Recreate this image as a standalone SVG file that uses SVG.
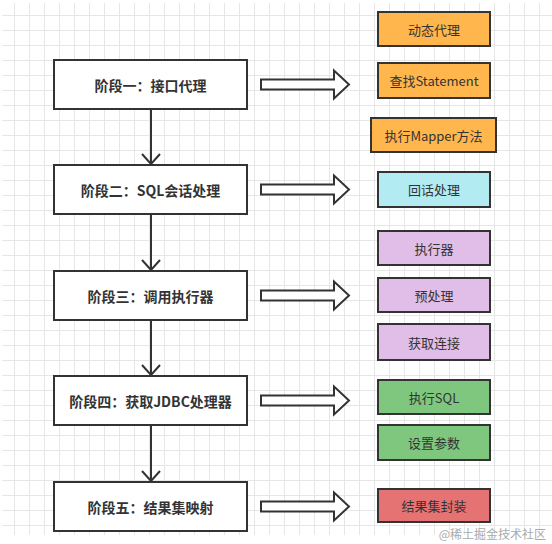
<svg xmlns="http://www.w3.org/2000/svg" width="552" height="544" viewBox="0 0 552 544">
<style>
.stage rect{fill:#fff;stroke:#333;stroke-width:2}
.stage text{font-family:"Noto Sans CJK SC","Microsoft YaHei",sans-serif;font-size:14px;font-weight:bold;fill:#333;text-anchor:middle;dominant-baseline:central}
.item rect{stroke:#333;stroke-width:2}
.item text{font-family:"Noto Sans CJK SC","Microsoft YaHei",sans-serif;font-size:13px;fill:#333;text-anchor:middle;dominant-baseline:central}
.o{fill:#FFB74D}.c{fill:#B2EBF2}.p{fill:#E1BEE7}.g{fill:#7FC77F}.r{fill:#E57373}
.flow{stroke:#333;stroke-width:2;fill:none}
.big{fill:#fff;stroke:#333;stroke-width:2;stroke-linejoin:miter}
</style>
<defs>
<pattern id="grid" x="14" y="0" width="15" height="15" patternUnits="userSpaceOnUse">
<path d="M0.5 0V15M0 0.5H15" stroke="#e6e6e6" stroke-width="1" fill="none"/>
</pattern>
<marker id="open" viewBox="0 0 12 20" refX="11" refY="10" markerWidth="12" markerHeight="20" markerUnits="userSpaceOnUse" orient="auto">
<path d="M1 1L11 10L1 19" fill="none" stroke="#333" stroke-width="2"/>
</marker>
<path id="blk" d="M0 -5H73V-14L88 0L73 14V5H0Z"/>
</defs>
<rect width="552" height="544" fill="#fff"/>
<rect x="2" y="3" width="550" height="532" fill="url(#grid)"/>
<g id="connectors">
<path class="flow" d="M151 109V164" marker-end="url(#open)"/>
<path class="flow" d="M151 214V270" marker-end="url(#open)"/>
<path class="flow" d="M151 320V375" marker-end="url(#open)"/>
<path class="flow" d="M151 425V481" marker-end="url(#open)"/>
<use href="#blk" class="big" x="261" y="84.5"/>
<use href="#blk" class="big" x="261" y="189.5"/>
<use href="#blk" class="big" x="261" y="295.5"/>
<use href="#blk" class="big" x="261" y="400.5"/>
<use href="#blk" class="big" x="261" y="506.5"/>
</g>
<g id="stage1" class="stage"><rect x="54" y="60" width="193" height="49"/><text x="150.5" y="84.5">阶段一：接口代理</text></g>
<g id="stage2" class="stage"><rect x="54" y="165" width="193" height="49"/><text x="150.5" y="189.5">阶段二：SQL会话处理</text></g>
<g id="stage3" class="stage"><rect x="54" y="271" width="193" height="49"/><text x="150.5" y="295.5">阶段三：调用执行器</text></g>
<g id="stage4" class="stage"><rect x="54" y="376" width="193" height="49"/><text x="150.5" y="400.5">阶段四：获取JDBC处理器</text></g>
<g id="stage5" class="stage"><rect x="54" y="482" width="193" height="49"/><text x="150.5" y="506.5">阶段五：结果集映射</text></g>
<g id="item1" class="item"><rect class="o" x="378" y="12" width="112" height="34"/><text x="434" y="29">动态代理</text></g>
<g id="item2" class="item"><rect class="o" x="378" y="63" width="112" height="35"/><text x="434" y="80.5">查找Statement</text></g>
<g id="item3" class="item"><rect class="o" x="371" y="118" width="125" height="34"/><text x="433.5" y="135">执行Mapper方法</text></g>
<g id="item4" class="item"><rect class="c" x="378" y="172" width="112" height="35"/><text x="434" y="189.5">回话处理</text></g>
<g id="item5" class="item"><rect class="p" x="378" y="231" width="112" height="34"/><text x="434" y="248">执行器</text></g>
<g id="item6" class="item"><rect class="p" x="378" y="278" width="112" height="34"/><text x="434" y="295">预处理</text></g>
<g id="item7" class="item"><rect class="p" x="378" y="324" width="112" height="36"/><text x="434" y="342">获取连接</text></g>
<g id="item8" class="item"><rect class="g" x="378" y="380" width="112" height="34"/><text x="434" y="397">执行SQL</text></g>
<g id="item9" class="item"><rect class="g" x="378" y="425" width="112" height="35"/><text x="434" y="442.5">设置参数</text></g>
<g id="item10" class="item"><rect class="r" x="378" y="489" width="112" height="33"/><text x="434" y="505.5">结果集封装</text></g>
<text x="546" y="539" font-family="Noto Sans CJK SC,sans-serif" font-size="12" fill="#aaa" text-anchor="end">@稀土掘金技术社区</text>
</svg>
